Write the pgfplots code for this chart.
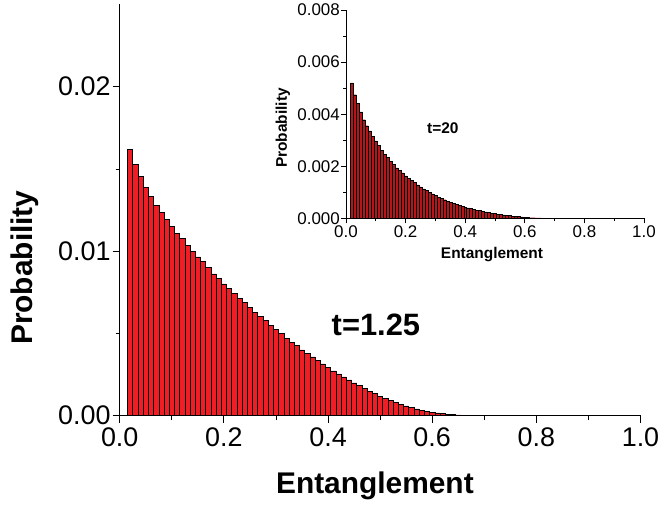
\documentclass[border=0pt]{standalone}
\usepackage{pgfplots}
\pgfplotsset{compat=1.18}
\usepackage{fontspec}
\setmainfont{Liberation Sans}
\definecolor{mainred}{RGB}{240,30,36}
\definecolor{insetred}{RGB}{180,22,26}

\begin{document}
\begin{tikzpicture}
\useasboundingbox (-119.7bp,-90.3bp) rectangle (541.3bp,415.7bp);
\begin{axis}[
  at={(0,0)}, anchor=south west,
  scale only axis, width=520.8bp, height=411.2bp,
  xmin=0, xmax=1, ymin=0, ymax=0.025,
  axis x line=bottom, axis y line=left,
  axis line style={-, line width=0.8bp, black},
  tick align=outside, major tick length=7bp, minor tick length=4bp,
  every tick/.style={black, line width=0.8bp},
  xtick={0,0.2,0.4,0.6,0.8,1}, minor x tick num=1,
  ytick={0,0.01,0.02}, minor y tick num=1,
  scaled y ticks=false, scaled x ticks=false,
  /pgf/number format/assume math mode=true,
  xticklabel style={/pgf/number format/fixed, /pgf/number format/fixed zerofill, /pgf/number format/precision=1, inner ysep=5bp},
  yticklabel style={/pgf/number format/fixed, /pgf/number format/fixed zerofill, /pgf/number format/precision=2, inner xsep=2bp},
  tick label style={font=\fontsize{27}{30}\selectfont},
  xlabel={Entanglement}, ylabel={Probability},
  label style={font=\fontsize{30}{34}\selectfont\bfseries},
  xlabel style={at={(axis description cs:0.49,-0.188)}, anchor=base},
  ylabel style={at={(axis description cs:-0.1665,0.36)}, anchor=base},
  ybar, bar width=0.01,
]
\addplot[fill=mainred, draw=black, line width=0.5bp] coordinates {
(0.02,0.01620) (0.03,0.01530) (0.04,0.01453) (0.05,0.01386) (0.06,0.01334)
(0.07,0.01279) (0.08,0.01236) (0.09,0.01194) (0.10,0.01151) (0.11,0.01109)
(0.12,0.01078) (0.13,0.01034) (0.14,0.00997) (0.15,0.00965) (0.16,0.00938)
(0.17,0.00900) (0.18,0.00863) (0.19,0.00833) (0.20,0.00802) (0.21,0.00772)
(0.22,0.00744) (0.23,0.00714) (0.24,0.00687) (0.25,0.00659) (0.26,0.00630)
(0.27,0.00604) (0.28,0.00578) (0.29,0.00550) (0.30,0.00525) (0.31,0.00501)
(0.32,0.00471) (0.33,0.00448) (0.34,0.00428) (0.35,0.00400) (0.36,0.00380)
(0.37,0.00357) (0.38,0.00337) (0.39,0.00315) (0.40,0.00295) (0.41,0.00272)
(0.42,0.00254) (0.43,0.00236) (0.44,0.00218) (0.45,0.00200) (0.46,0.00183)
(0.47,0.00166) (0.48,0.00150) (0.49,0.00134) (0.50,0.00119) (0.51,0.00106)
(0.52,0.00093) (0.53,0.00081) (0.54,0.00069) (0.55,0.00059) (0.56,0.00049)
(0.57,0.00041) (0.58,0.00034) (0.59,0.00027) (0.60,0.00022) (0.61,0.00017)
(0.62,0.00013) (0.63,0.00010) (0.64,0.00007) (0.65,0.00005) (0.66,0.00004)
(0.67,0.00002) (0.68,0.00001) (0.69,0.00001)
};
\node[font=\fontsize{31}{34}\selectfont\bfseries] at (axis cs:0.492,0.0055) {t=1.25};
\end{axis}

\begin{axis}[
  at={(226.3bp,197.2bp)}, anchor=south west,
  scale only axis, width=298bp, height=208.5bp,
  xmin=0, xmax=1, ymin=0, ymax=0.008,
  axis x line=bottom, axis y line=left,
  axis line style={-, line width=0.7bp, black},
  tick align=outside, major tick length=5bp, minor tick length=3bp,
  every tick/.style={black, line width=0.7bp},
  xtick={0,0.2,0.4,0.6,0.8,1}, minor x tick num=1,
  ytick={0,0.002,0.004,0.006,0.008}, minor y tick num=1,
  scaled y ticks=false, scaled x ticks=false,
  /pgf/number format/assume math mode=true,
  xticklabel style={/pgf/number format/fixed, /pgf/number format/fixed zerofill, /pgf/number format/precision=1, inner ysep=1.5bp},
  yticklabel style={/pgf/number format/fixed, /pgf/number format/fixed zerofill, /pgf/number format/precision=3, inner xsep=1bp},
  tick label style={font=\fontsize{17}{19}\selectfont},
  xlabel={Entanglement}, ylabel={Probability},
  label style={font=\fontsize{15.5}{18}\selectfont\bfseries},
  xlabel style={at={(axis description cs:0.49,-0.194)}, anchor=base},
  ylabel style={at={(axis description cs:-0.198,0.434)}, anchor=base},
  ybar, bar width=0.01,
]
\addplot[fill=insetred, draw=black, line width=0.4bp] coordinates {
(0.02,0.00520) (0.03,0.00475) (0.04,0.00442) (0.05,0.00409) (0.06,0.00379)
(0.07,0.00356) (0.08,0.00336) (0.09,0.00315) (0.10,0.00298) (0.11,0.00280)
(0.12,0.00261) (0.13,0.00245) (0.14,0.00234) (0.15,0.00220) (0.16,0.00207)
(0.17,0.00194) (0.18,0.00185) (0.19,0.00175) (0.20,0.00164) (0.21,0.00155)
(0.22,0.00146) (0.23,0.00138) (0.24,0.00129) (0.25,0.00121) (0.26,0.00114)
(0.27,0.00107) (0.28,0.00100) (0.29,0.00094) (0.30,0.00088) (0.31,0.00082)
(0.32,0.00077) (0.33,0.00072) (0.34,0.00067) (0.35,0.00063) (0.36,0.00059)
(0.37,0.00055) (0.38,0.00051) (0.39,0.00047) (0.40,0.00044) (0.41,0.00041)
(0.42,0.00038) (0.43,0.00035) (0.44,0.00032) (0.45,0.00030) (0.46,0.00027)
(0.47,0.00025) (0.48,0.00023) (0.49,0.00021) (0.50,0.00019) (0.51,0.00017)
(0.52,0.00015) (0.53,0.00014) (0.54,0.00012) (0.55,0.00011) (0.56,0.00009)
(0.57,0.00008) (0.58,0.00007) (0.59,0.00006) (0.60,0.00005) (0.61,0.00004)
(0.62,0.00003) (0.63,0.00003) (0.64,0.00002) (0.65,0.00002) (0.66,0.00001)
(0.67,0.00001) (0.68,0.00001)
};
\node[font=\fontsize{15.5}{18}\selectfont\bfseries] at (axis cs:0.325,0.00347) {t=20};
\end{axis}
\end{tikzpicture}
\end{document}
